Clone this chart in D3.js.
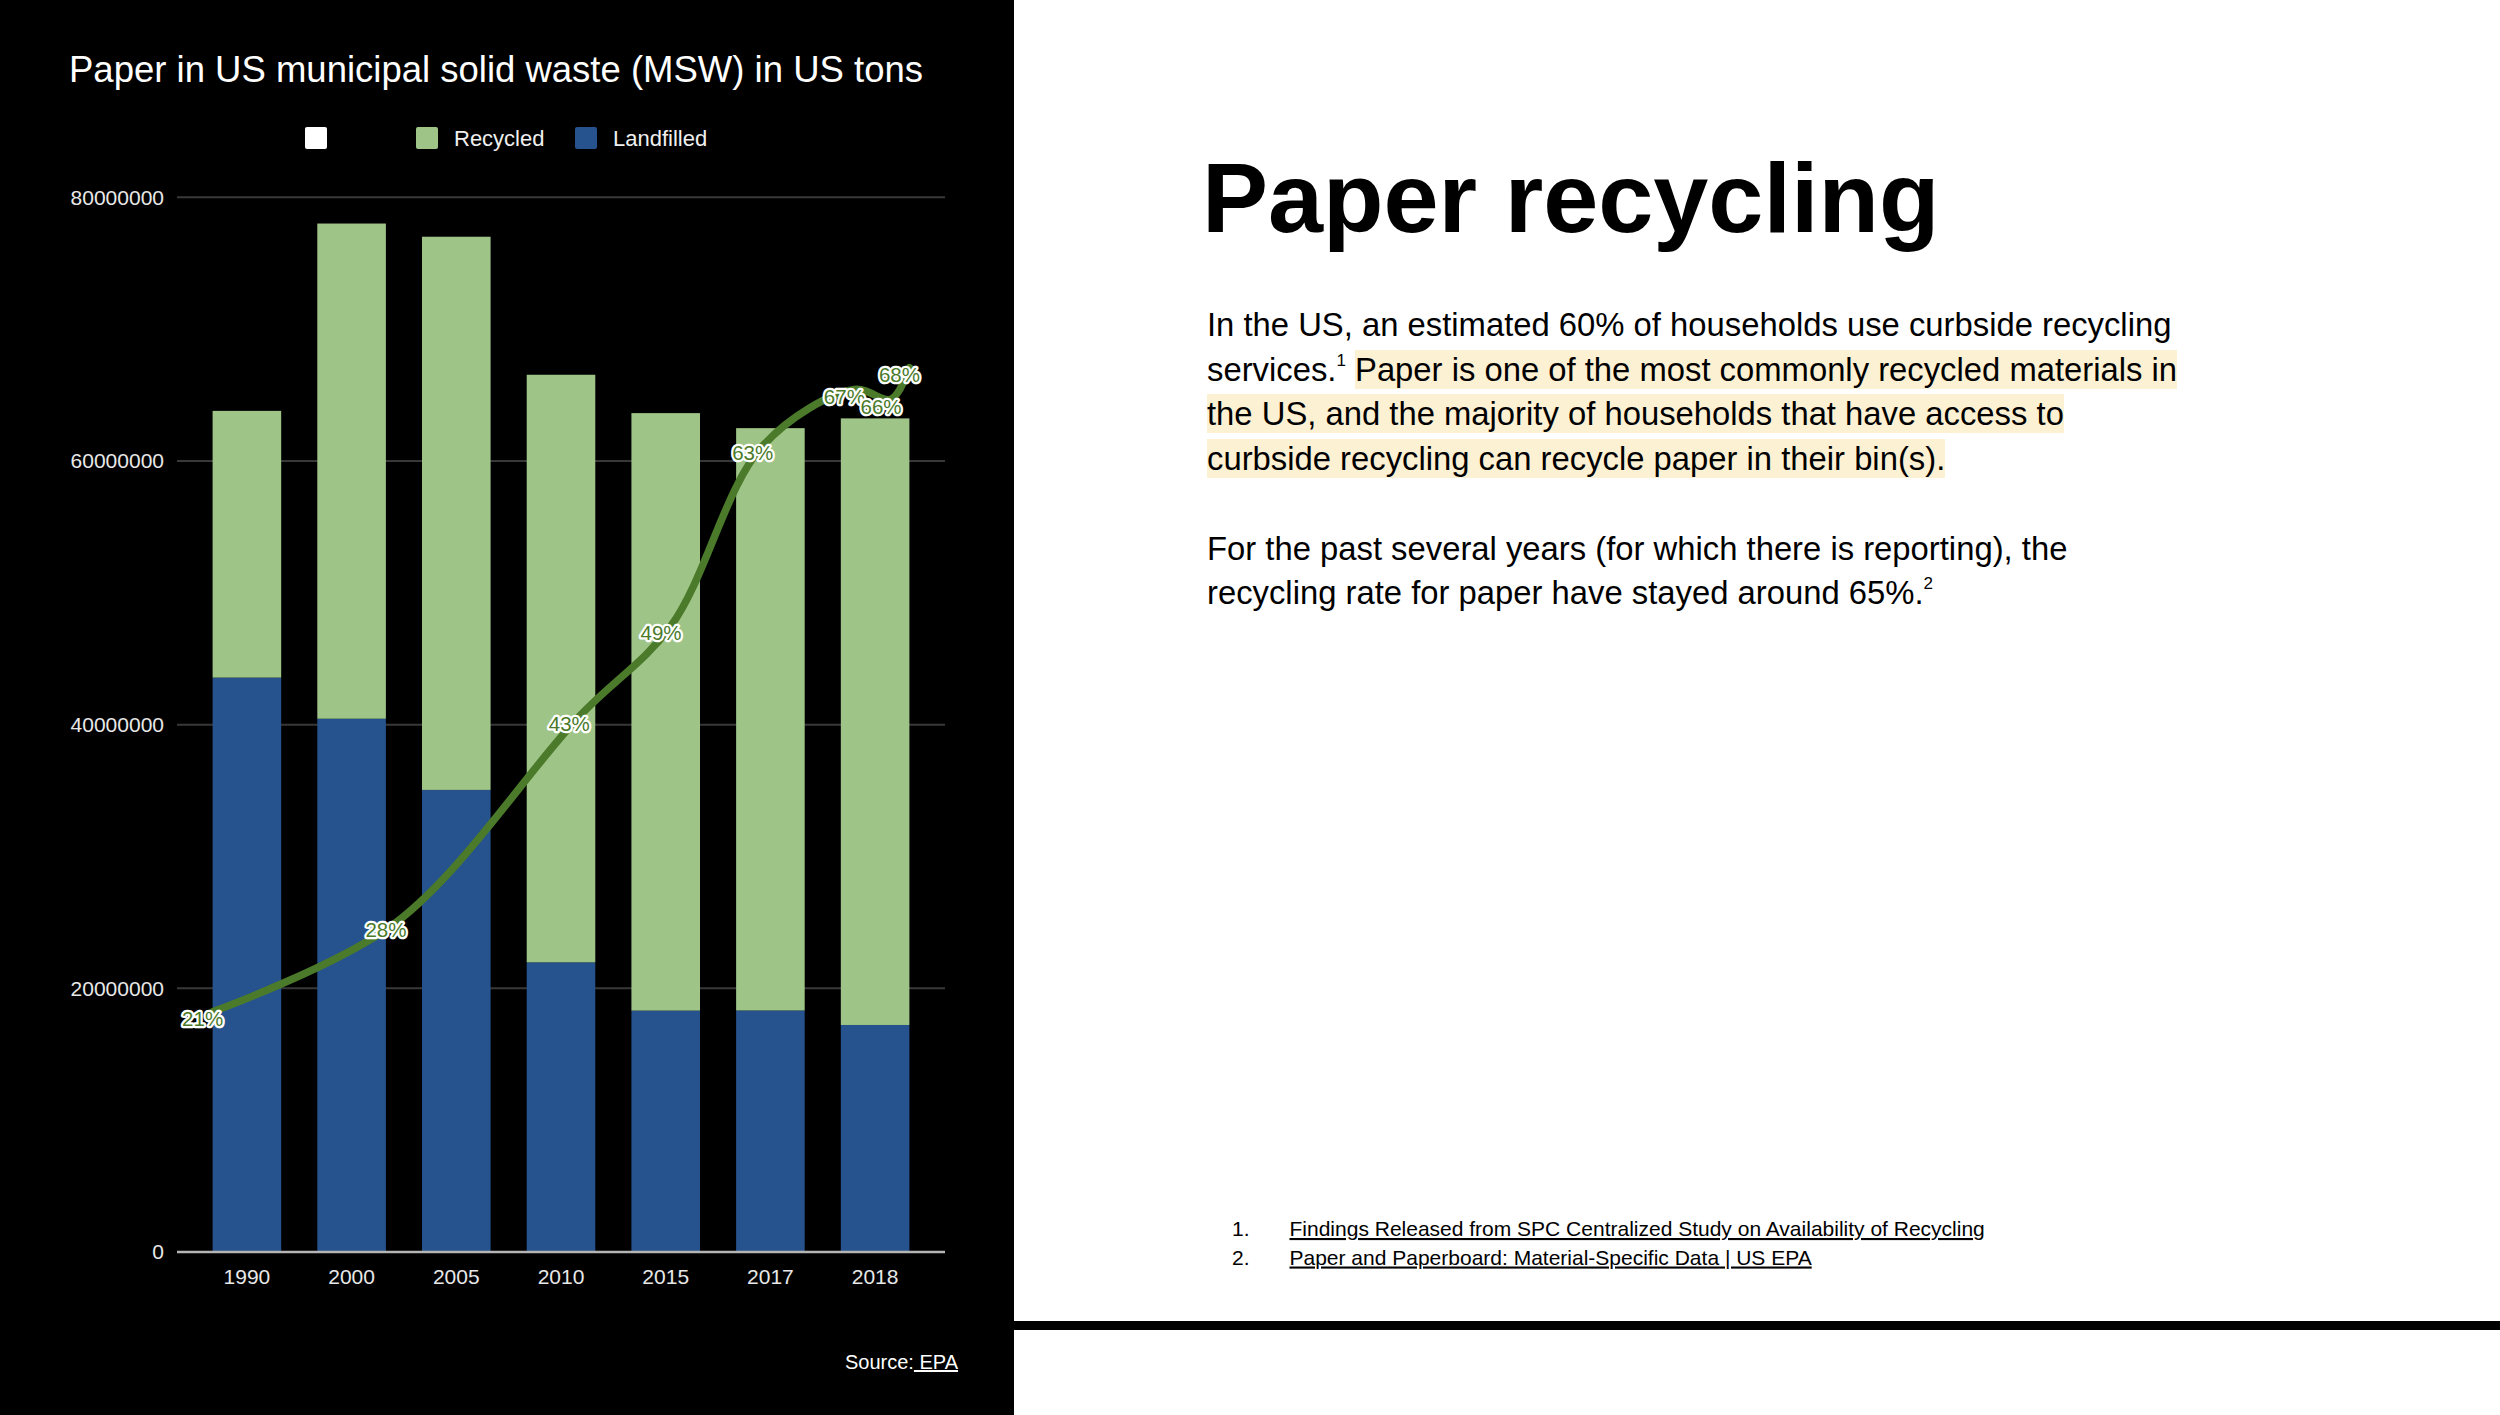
<!DOCTYPE html>
<html>
<head>
<meta charset="utf-8">
<script src="https://cdn.jsdelivr.net/npm/d3@7"></script>
<style>
  html, body { margin:0; padding:0; background:#fff; }
  body { width:2500px; height:1415px; position:relative; overflow:hidden; font-family:"Liberation Sans", Arial, Helvetica, sans-serif; }
  svg { position:absolute; left:0; top:0; }
  #para { position:absolute; left:1207px; top:303px; font-size:32.8px; line-height:44.7px; white-space:nowrap; color:#000; }
  #para .hl { background:#fdf1d3; padding:1px 0; }
  #para sup { font-size:17px; vertical-align:baseline; position:relative; top:-15px; line-height:0; }
</style>
</head>
<body>
<svg id="chart" width="2500" height="1415"></svg>
<div id="para">In the US, an estimated 60% of households use curbside recycling<br>services.<sup>1</sup> <span class="hl">Paper is one of the most commonly recycled materials in<br>the US, and the majority of households that have access to<br>curbside recycling can recycle paper in their bin(s).</span><br><br>For the past several years (for which there is reporting), the<br>recycling rate for paper have stayed around 65%.<sup>2</sup></div>
<script>
// ---- data ----
const years = ["1990", "2000", "2005", "2010", "2015", "2017", "2018"];
const recycled = [20230000, 37560000, 41960000, 44570000, 45320000, 44170000, 46010000];
const landfilled = [43570000, 40450000, 35050000, 21970000, 18310000, 18320000, 17220000];
const rateYears = [1980, 1990, 2000, 2005, 2010, 2015, 2017, 2018];
const rates = [0.213, 0.278, 0.428, 0.494, 0.625, 0.666, 0.659, 0.682];
const yTicks = [0, 20000000, 40000000, 60000000, 80000000];
const seriesNames = ["", "Recycled", "Landfilled"];
const footnotes = ["Findings Released from SPC Centralized Study on Availability of Recycling",
                   "Paper and Paperboard: Material-Specific Data | US EPA"];

// ---- colours ----
const cRecycled = "#9fc487", cLandfilled = "#26538e", cLine = "#4a7a2a";
const font = "'Liberation Sans', Arial, Helvetica, sans-serif";

const svg = d3.select("#chart");

// black panel + divider
svg.append("rect").attr("x", 0).attr("y", 0).attr("width", 1014).attr("height", 1415).attr("fill", "#000");
svg.append("rect").attr("x", 1014).attr("y", 1321).attr("width", 1486).attr("height", 9).attr("fill", "#000");

// title
svg.append("text").attr("x", 69).attr("y", 82).attr("fill", "#fff")
  .attr("font-family", font).attr("font-size", 36.5).text("Paper in US municipal solid waste (MSW) in US tons");

// scales
const x = d3.scaleBand().domain(years).range([177, 945]).paddingInner(0.345).paddingOuter(0.34);
const y = d3.scaleLinear().domain([0, 80000000]).range([1252, 197.3]);
const xl = d3.scaleLinear().domain([1980, 2018]).range([x(years[0]), x(years[years.length - 1]) + x.bandwidth()]);
const yl = d3.scaleLinear().domain([0.038, 0.806]).range([1252, 197.3]);

// gridlines
svg.append("g").selectAll("line").data(yTicks.filter(d => d !== 0)).join("line")
  .attr("x1", 177).attr("x2", 945).attr("y1", d => y(d)).attr("y2", d => y(d))
  .attr("stroke", "#383838").attr("stroke-width", 2);

// y axis labels
const yAxis = d3.axisLeft(y).tickValues(yTicks).tickFormat(d3.format("d")).tickSize(0).tickPadding(0);
const ya = svg.append("g").attr("transform", "translate(164,0)").call(yAxis);
ya.select(".domain").remove();
ya.selectAll("text").attr("fill", "#e8e8e8").attr("font-family", font).attr("font-size", 21).attr("dy", "0.33em");

// stacked bars
const rows = years.map((yr, i) => ({ year: yr, landfilled: landfilled[i], recycled: recycled[i] }));
const stack = d3.stack().keys(["landfilled", "recycled"])(rows);
const colors = { landfilled: cLandfilled, recycled: cRecycled };
svg.selectAll("g.series").data(stack).join("g").attr("class", "series")
  .attr("fill", d => colors[d.key])
  .selectAll("rect").data(d => d).join("rect")
  .attr("x", d => x(d.data.year)).attr("width", x.bandwidth())
  .attr("y", d => y(d[1])).attr("height", d => y(d[0]) - y(d[1]));

// zero line
svg.append("line").attr("x1", 177).attr("x2", 945).attr("y1", y(0)).attr("y2", y(0))
  .attr("stroke", "#b4b4b4").attr("stroke-width", 2.5);

// x axis labels
const xAxis = d3.axisBottom(x).tickSize(0).tickPadding(0);
const xa = svg.append("g").attr("transform", "translate(0,1284)").call(xAxis);
xa.select(".domain").remove();
xa.selectAll("text").attr("fill", "#e8e8e8").attr("font-family", font).attr("font-size", 21).attr("dy", 0);

// recycling-rate line
const pts = rateYears.map((yr, i) => ({ yr, v: rates[i] }));
const line = d3.line().x(d => xl(d.yr)).y(d => yl(d.v)).curve(d3.curveCatmullRom.alpha(0.5));
svg.append("path").datum(pts).attr("d", line).attr("fill", "none")
  .attr("stroke", cLine).attr("stroke-width", 7.5).attr("stroke-linecap", "round");

svg.selectAll("text.lbl").data(pts).join("text").attr("class", "lbl")
  .attr("x", d => xl(d.yr) - 10).attr("y", d => yl(d.v) + 7)
  .attr("text-anchor", "middle").attr("dominant-baseline", "central")
  .attr("font-family", font).attr("font-size", 20.5)
  .attr("fill", cLine).attr("stroke", "#fff").attr("stroke-width", 4.5)
  .attr("stroke-linejoin", "round").attr("paint-order", "stroke")
  .text(d => Math.round(d.v * 100) + "%");

// legend
const legendX = [305, 416, 575];
const legendColors = ["#ffffff", cRecycled, cLandfilled];
const lg = svg.selectAll("g.leg").data(seriesNames).join("g").attr("class", "leg")
  .attr("transform", (d, i) => `translate(${legendX[i]},127)`);
lg.append("rect").attr("width", 22).attr("height", 22).attr("rx", 2).attr("fill", (d, i) => legendColors[i]);
lg.append("text").attr("x", 38).attr("y", 19).attr("fill", "#f0f0f0")
  .attr("font-family", font).attr("font-size", 22).text(d => d);

// source
const src = svg.append("text").attr("x", 845).attr("y", 1369).attr("fill", "#fff")
  .attr("font-family", font).attr("font-size", 20);
src.append("tspan").text("Source:");
src.append("tspan").attr("text-decoration", "underline").text("\u00a0EPA");

// right side heading
svg.append("text").attr("x", 1202).attr("y", 232).attr("fill", "#000")
  .attr("font-family", font).attr("font-weight", "bold").attr("font-size", 99).text("Paper recycling");

// footnotes
const fn = svg.selectAll("g.fn").data(footnotes).join("g").attr("class", "fn")
  .attr("transform", (d, i) => `translate(0,${1236 + i * 28.5})`);
fn.append("text").attr("x", 1232).attr("fill", "#000").attr("font-family", font).attr("font-size", 21)
  .text((d, i) => (i + 1) + ".");
fn.append("text").attr("x", 1289.5).attr("fill", "#000").attr("font-family", font).attr("font-size", 21)
  .attr("text-decoration", "underline").text(d => d);
</script>
</body>
</html>
